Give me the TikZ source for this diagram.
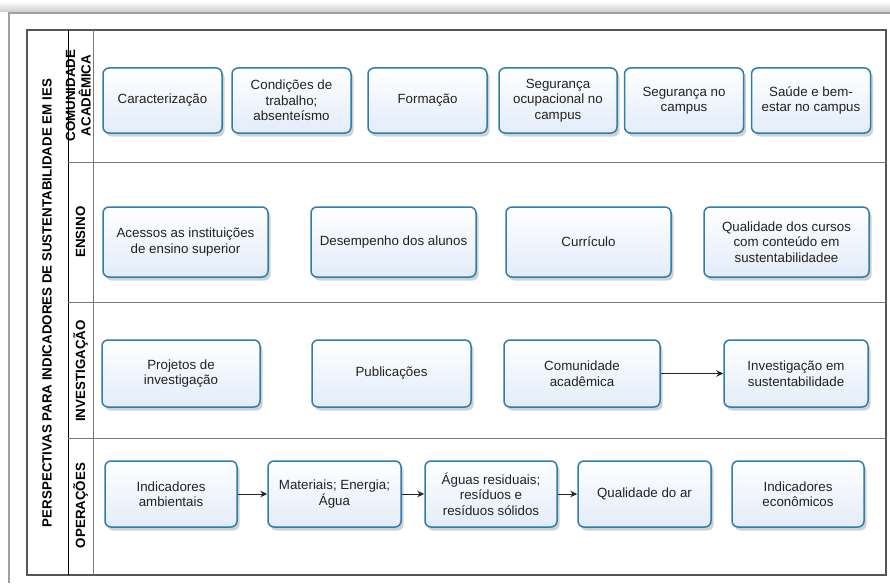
\documentclass[tikz,border=0pt]{standalone}
\usepackage{fontspec}
\setmainfont{Liberation Sans}
\usetikzlibrary{arrows.meta,shadows}
\definecolor{boxborder}{RGB}{46,125,172}
\definecolor{boxfill}{RGB}{226,236,249}
\definecolor{boxtext}{RGB}{34,34,34}
\definecolor{framegray}{RGB}{85,85,85}
\definecolor{lanegray}{RGB}{120,120,120}
\definecolor{outergray}{RGB}{160,160,160}
\begin{document}
\begin{tikzpicture}[x=1pt,y=-1pt,
  box/.style={draw=boxborder, line width=1.5pt, rounded corners=6pt,
    top color=white, bottom color=boxfill, text=boxtext, align=center,
    font=\fontsize{13.33}{15.5}\selectfont, inner sep=0pt,
    drop shadow={shadow xshift=2.5pt, shadow yshift=-3.5pt, opacity=0.18, fill=black}},
  lanelabel/.style={rotate=90, anchor=base, align=center, inner sep=0pt,
    font=\fontsize{13.33}{15.5}\selectfont\bfseries},
  arr/.style={draw=black!85, line width=0.9pt, -{Stealth[length=7pt,width=6.5pt]}},
  r1/.style={box, minimum width=119pt, minimum height=65pt},
  r2/.style={box, minimum width=165pt, minimum height=70pt},
  r3/.style={box, minimum height=67pt},
  r4/.style={box, minimum width=132pt, minimum height=66pt}]
\useasboundingbox (0,0) rectangle (890,583);
% outer frame with shadow
\shade[top color=white, bottom color=black!20] (0,1) rectangle (890,12);
\draw[outergray, line width=2pt] (9,583) -- (9,13) -- (890,13);
% pool frame
\draw[framegray, line width=1.3pt] (27,30) rectangle (886,575);
\draw[black, line width=1pt] (68,30) -- (68,575);
\draw[lanegray, line width=1pt] (93,30) -- (93,575);
\draw[lanegray, line width=1pt] (68,162) -- (886,162);
\draw[lanegray, line width=1pt] (68,302) -- (886,302);
\draw[lanegray, line width=1pt] (68,438) -- (886,438);
% labels
\node[lanelabel] (title) at (51.5,303) {PERSPECTIVAS PARA INDICADORES DE SUSTENTABILIDADE EM IES};
\node[lanelabel] (lcom) at (90.7,95.5) {COMUNIDADE\\ACADÊMICA};
\node[lanelabel] (lens) at (85,232) {ENSINO};
\node[lanelabel] (linv) at (85,371) {INVESTIGAÇÃO};
\node[lanelabel] (lope) at (85,505.5) {OPERAÇÕES};
% row 1
\node[r1] (c1) at (162.5,100.5) {Caracterização};
\node[r1] (c2) at (291.5,100.5) {Condições de\\trabalho;\\absenteísmo};
\node[r1] (c3) at (427.5,100.5) {Formação};
\node[r1, minimum width=118pt] (c4) at (558,100.5) {Segurança\\ocupacional no\\campus};
\node[r1] (c5) at (684,100.5) {Segurança no\\campus};
\node[r1] (c6) at (811,100.5) {Saúde e bem-\\estar no campus};
% row 2
\node[r2] (e1) at (185.5,242) {Acessos as instituições\\de ensino superior};
\node[r2] (e2) at (393.5,242) {Desempenho dos alunos};
\node[r2] (e3) at (588.5,242) {Currículo};
\node[r2] (e4) at (786.5,242) {Qualidade dos cursos\\com conteúdo em\\sustentabilidadee};
% row 3
\node[r3, minimum width=158pt] (i1) at (181,373.5) {Projetos de\\investigação};
\node[r3, minimum width=159pt] (i2) at (391.5,373.5) {Publicações};
\node[r3, minimum width=156pt] (i3) at (582,373.5) {Comunidade\\acadêmica};
\node[r3, minimum width=144pt] (i4) at (796,373.5) {Investigação em\\sustentabilidade};
% row 4
\node[r4] (o1) at (171,494) {Indicadores\\ambientais};
\node[r4, minimum width=133pt] (o2) at (334.5,494) {Materiais; Energia;\\Água};
\node[r4] (o3) at (491,494) {Águas residuais;\\resíduos e\\resíduos sólidos};
\node[r4, minimum width=133pt] (o4) at (644.5,494) {Qualidade do ar};
\node[r4] (o5) at (798,494) {Indicadores\\econômicos};
% connectors
\draw[arr] (i3) -- (i4);
\draw[arr] (o1) -- (o2);
\draw[arr] (o2) -- (o3);
\draw[arr] (o3) -- (o4);
\end{tikzpicture}
\end{document}
